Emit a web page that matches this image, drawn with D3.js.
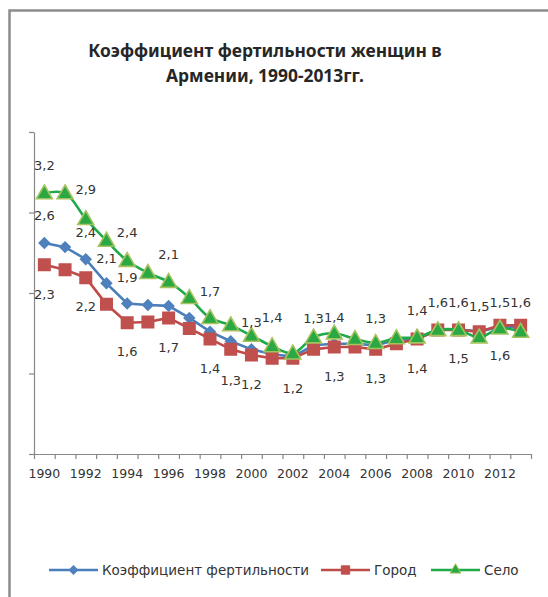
<!DOCTYPE html>
<html>
<head>
<meta charset="utf-8">
<script src="https://cdn.jsdelivr.net/npm/d3@7"></script>
<style>
  body { margin: 0; background: #fff; }
  svg { display: block; }
</style>
</head>
<body>
<svg id="chart"></svg>
<script>
// years on the x axis
var years = d3.range(1990, 2014)

// series values
var fertility = [2.62, 2.57, 2.42, 2.12, 1.87, 1.85, 1.84, 1.69, 1.52, 1.40, 1.30, 1.24,
                 1.21, 1.35, 1.37, 1.37, 1.35, 1.42, 1.43, 1.54, 1.55, 1.52, 1.58, 1.57]
var city      = [2.35, 2.29, 2.19, 1.86, 1.63, 1.64, 1.69, 1.56, 1.43, 1.30, 1.23, 1.19,
                 1.19, 1.30, 1.33, 1.33, 1.30, 1.37, 1.43, 1.54, 1.54, 1.52, 1.60, 1.60]
var village   = [3.24, 3.24, 2.92, 2.65, 2.40, 2.25, 2.14, 1.94, 1.69, 1.60, 1.47, 1.34,
                 1.25, 1.45, 1.50, 1.43, 1.38, 1.44, 1.45, 1.54, 1.54, 1.45, 1.56, 1.52]

var seriesNames = ["Коэффициент фертильности", "Город", "Село"]

// data labels as they sit in the original (year, text, level on the value axis)
var labelYears  = [1990, 1992, 1990, 1992, 1994, 1993, 1996, 1994, 1998, 1990, 1992,
                   1994, 1996, 2000, 2001, 1998, 1999, 2000, 2002, 2003, 2004, 2006,
                   2004, 2006, 2008, 2008, 2009, 2010, 2011, 2012, 2013, 2010, 2012]
var labelTexts  = ["3,2", "2,9", "2,6", "2,4", "2,4", "2,1", "2,1", "1,9", "1,7", "2,3", "2,2",
                   "1,6", "1,7", "1,3", "1,4", "1,4", "1,3", "1,2", "1,2", "1,3", "1,4", "1,3",
                   "1,3", "1,3", "1,4", "1,4", "1,6", "1,6", "1,5", "1,5", "1,6", "1,5", "1,6"]
var labelLevels = [3.59, 3.29, 2.96, 2.76, 2.75, 2.43, 2.48, 2.20, 2.02, 1.98, 1.83,
                   1.27, 1.33, 1.63, 1.70, 1.06, 0.92, 0.87, 0.81, 1.68, 1.70, 1.68,
                   0.96, 0.94, 1.78, 1.07, 1.89, 1.89, 1.83, 1.89, 1.89, 1.19, 1.23]

var yTicks = [0, 1, 2, 3, 4]

var screen = {width: 548, height: 597}
var plot = {left: 34, right: 531, top: 132, bottom: 454}

var colors = {
    fertility: {line: "#4a7ebb", fill: "#4f81bd", stroke: "#4f81bd"},
    city:      {line: "#be4b48", fill: "#c0504d", stroke: "#c0504d"},
    village:   {line: "#1faa4a", fill: "#2aa843", stroke: "#a5c25f"}
}

var svg = d3.select("#chart")
    .attr("width", screen.width)
    .attr("height", screen.height)

// frame of the chart area
svg.append("rect")
    .attr("x", 9.5).attr("y", 10.5)
    .attr("width", 560).attr("height", 600)
    .attr("fill", "none")
    .attr("stroke", "#8c8c8c")
    .attr("stroke-width", 2.5)

// title
var title = svg.append("text")
    .attr("text-anchor", "middle")
    .attr("font-family", "'Noto Sans', 'Open Sans', sans-serif")
    .attr("font-weight", "bold")
    .attr("font-size", 17.4)
    .attr("fill", "#262626")
title.append("tspan").attr("x", 265).attr("y", 57).text("Коэффициент фертильности женщин в")
title.append("tspan").attr("x", 265).attr("y", 82).text("Армении, 1990-2013гг.")

var xScale = d3.scaleBand()
    .domain(years)
    .range([plot.left, plot.right])
var xEdge = d3.scaleLinear()
    .domain([0, years.length])
    .range([plot.left, plot.right])
var yScale = d3.scaleLinear()
    .domain([0, 4])
    .range([plot.bottom, plot.top])

var cx = function(year) { return xScale(year) + xScale.bandwidth() / 2 }

// y axis: ticks only, no labels
var yAxis = d3.axisLeft(yScale).tickValues(yTicks).tickFormat("").tickSize(5).tickSizeOuter(0)
svg.append("g")
    .attr("transform", "translate(" + plot.left + ",0)")
    .call(yAxis)

// x axis: tick marks on band edges
var xTicks = d3.axisBottom(xEdge).ticks(years.length).tickFormat("").tickSize(5).tickSizeOuter(0)
svg.append("g")
    .attr("transform", "translate(0," + plot.bottom + ")")
    .call(xTicks)

// x labels every other year, centered in the band
var xLabels = d3.axisBottom(xScale)
    .tickValues(years.filter(function(d, i) { return i % 2 == 0 }))
    .tickSize(0).tickPadding(15)
var gxl = svg.append("g")
    .attr("transform", "translate(0," + plot.bottom + ")")
    .call(xLabels)
gxl.select(".domain").remove()

svg.selectAll(".domain, .tick line")
    .attr("stroke", "#878787")
    .attr("stroke-width", 1.2)
svg.selectAll(".tick text")
    .attr("font-family", "'DejaVu Sans', sans-serif")
    .attr("font-size", 12.5)
    .attr("fill", "#333")

// excel style diamond = square turned 45 degrees
var series = [
    {values: fertility, col: colors.fertility, marker: d3.symbolSquare, rot: 45, size: 52},
    {values: city,      col: colors.city,      marker: d3.symbolSquare, rot: 0, size: 130},
    {values: village,   col: colors.village,   marker: d3.symbolTriangle, rot: 0, size: 110}
]

series.forEach(function(s, k)
{
    var lineGenerator = d3.line()
        .x(function(v, i) { return cx(years[i]) })
        .y(function(v) { return yScale(v) })
        .curve(k == 2 ? d3.curveCatmullRom.alpha(0.5) : d3.curveLinear)

    svg.append("path")
        .datum(s.values)
        .attr("d", lineGenerator)
        .attr("fill", "none")
        .attr("stroke", s.col.line)
        .attr("stroke-width", 2.6)

    svg.append("g")
        .selectAll("path")
        .data(s.values)
        .enter()
        .append("path")
        .attr("d", d3.symbol().type(s.marker).size(s.size))
        .attr("transform", function(v, i) {
            return "translate(" + cx(years[i]) + "," + (yScale(v) + (k == 2 ? 1 : 0)) + ") rotate(" + s.rot + ")"
        })
        .attr("fill", s.col.fill)
        .attr("stroke", s.col.stroke)
        .attr("stroke-width", 1.6)
})

// data labels
svg.append("g")
    .selectAll("text")
    .data(labelTexts)
    .enter()
    .append("text")
    .attr("x", function(t, i) { return cx(labelYears[i]) })
    .attr("y", function(t, i) { return yScale(labelLevels[i]) })
    .attr("dy", "0.36em")
    .attr("text-anchor", "middle")
    .attr("font-family", "'DejaVu Sans', sans-serif")
    .attr("font-size", 13)
    .attr("fill", "#333")
    .text(function(t) { return t })

// legend
var legend = [
    {name: seriesNames[0], col: colors.fertility, marker: d3.symbolSquare, rot: 45, size: 36, x1: 49, x2: 98, tx: 102},
    {name: seriesNames[1], col: colors.city, marker: d3.symbolSquare, rot: 0, size: 70, x1: 321, x2: 370, tx: 374},
    {name: seriesNames[2], col: colors.village, marker: d3.symbolTriangle, rot: 0, size: 50, x1: 431, x2: 480, tx: 484}
]
var lg = svg.append("g").attr("transform", "translate(0,570)")
legend.forEach(function(l)
{
    lg.append("line")
        .attr("x1", l.x1).attr("x2", l.x2)
        .attr("stroke", l.col.line).attr("stroke-width", 2.6)
    lg.append("path")
        .attr("d", d3.symbol().type(l.marker).size(l.size))
        .attr("transform", "translate(" + (l.x1 + l.x2) / 2 + ",0) rotate(" + l.rot + ")")
        .attr("fill", l.col.fill)
        .attr("stroke", l.col.stroke)
        .attr("stroke-width", 1)
    lg.append("text")
        .attr("x", l.tx)
        .attr("dy", "0.35em")
        .attr("font-family", "'DejaVu Sans', sans-serif")
        .attr("font-size", 13.5)
        .attr("fill", "#333")
        .text(l.name)
})
</script>
</body>
</html>
